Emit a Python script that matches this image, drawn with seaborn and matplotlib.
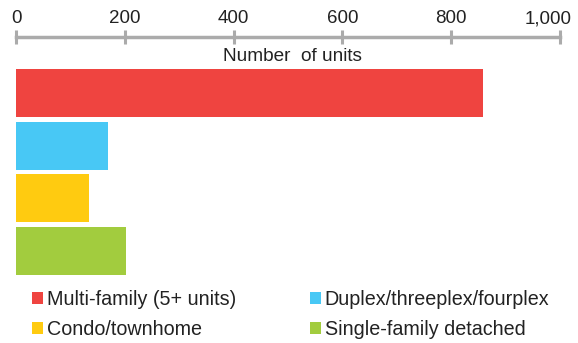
import matplotlib
matplotlib.use("Agg")
import matplotlib.pyplot as plt
import matplotlib.transforms as mtransforms
from matplotlib.patches import Patch
from matplotlib.ticker import FuncFormatter
import seaborn as sns
import pandas as pd

categories = ["Multi-family (5+ units)", "Duplex/threeplex/fourplex",
              "Condo/townhome", "Single-family detached"]
units = [858, 170, 135, 203]
colors = ["#EF4440", "#48C8F5", "#FFCB10", "#A2CC3E"]
x_ticks = [0, 200, 400, 600, 800, 1000]

sns.set_theme(style="white")
plt.rcParams["font.family"] = ["Liberation Sans", "DejaVu Sans"]

df = pd.DataFrame({"type": categories, "units": units})

fig = plt.figure(figsize=(5.78, 3.43), dpi=100)
ax = fig.add_axes([0.0277, 0.193, 0.941, 0.699])

sns.barplot(data=df, x="units", y="type", hue="type", palette=colors,
            order=categories, hue_order=categories, width=0.914,
            legend=False, ax=ax, saturation=1, linewidth=0)

ax.set_xlim(0, 1000)
ax.set_ylim(3.5, -1.067)
ax.set_xticks(x_ticks)
ax.xaxis.set_major_formatter(FuncFormatter(lambda v, p: f"{int(v):,}"))
ax.xaxis.tick_top()
ax.tick_params(axis="x", which="major", direction="inout", length=10, width=2.2,
               color="#ABABAB", labelsize=13.5, labelcolor="#222222", pad=2,
               top=True, bottom=False, labeltop=True, labelbottom=False)
ax.tick_params(axis="y", left=False, labelleft=False)
ax.set_ylabel("")

# nudge the last tick label so it stays inside the figure
fig.canvas.draw()
last = ax.get_xticklabels(which="major")[-1]
last.set_transform(last.get_transform() +
                   mtransforms.ScaledTranslation(-12 / 100, 0, fig.dpi_scale_trans))

for side in ["left", "right", "bottom"]:
    ax.spines[side].set_visible(False)
ax.spines["top"].set_color("#ABABAB")
ax.spines["top"].set_linewidth(2.5)

ax.set_xlabel("Number  of units", fontsize=13.7, color="#222222")
ax.xaxis.set_label_coords(0.509, 0.917)
ax.xaxis.label.set_va("center")

order = [0, 2, 1, 3]
handles = [Patch(facecolor=colors[i], edgecolor="none") for i in order]
labels = [categories[i] for i in order]
fig.legend(handles, labels, ncol=2, loc="upper left",
           bbox_to_anchor=(0.0548, 0.155), frameon=False, fontsize=14.2,
           handlelength=0.56, handleheight=0.56, handletextpad=0.2,
           columnspacing=3.75, labelspacing=0.58, borderaxespad=0,
           borderpad=0, labelcolor="#222222")

fig.savefig("out.png", dpi=100)
